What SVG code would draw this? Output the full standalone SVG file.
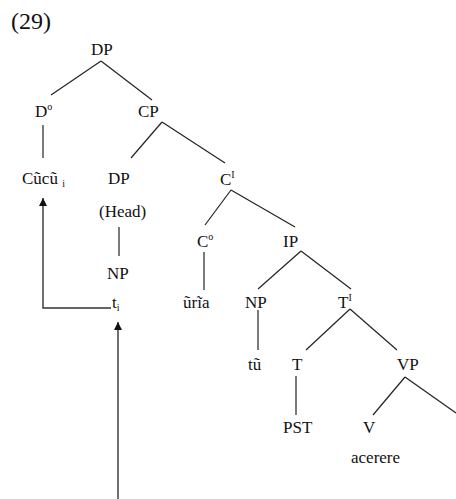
<svg xmlns="http://www.w3.org/2000/svg" width="456" height="499" viewBox="0 0 456 499">
<style>
  text { font-family: "Liberation Serif", "Times New Roman", serif; font-size: 17px; fill: #111; }
  .num { font-size: 24px; }
  .sup { font-size: 10px; }
  .sub { font-size: 10px; }
  .edge { stroke: #222; stroke-width: 1.2; fill: none; }
  .move { stroke: #333; stroke-width: 1.4; fill: none; }
</style>
<defs>
  <marker id="ah" viewBox="0 0 10 10" refX="10" refY="5" markerWidth="8" markerHeight="8" markerUnits="userSpaceOnUse" orient="auto">
    <path d="M0,0 L10,5 L0,10 z" fill="#111"/>
  </marker>
</defs>
<rect width="456" height="499" fill="#fff"/>
<text class="num" x="11" y="29">(29)</text>
<g id="connectors">
  <line class="edge" x1="101" y1="61" x2="51" y2="95"/>
  <line class="edge" x1="101" y1="61" x2="152" y2="100"/>
  <line class="edge" x1="43" y1="125" x2="43" y2="158"/>
  <line class="edge" x1="162" y1="122" x2="131" y2="158"/>
  <line class="edge" x1="162" y1="122" x2="225" y2="163"/>
  <line class="edge" x1="119" y1="227" x2="119" y2="256"/>
  <line class="edge" x1="231" y1="190" x2="205" y2="225"/>
  <line class="edge" x1="231" y1="190" x2="295" y2="227"/>
  <line class="edge" x1="204" y1="252" x2="204" y2="290"/>
  <line class="edge" x1="301" y1="251" x2="258" y2="289"/>
  <line class="edge" x1="301" y1="251" x2="351" y2="289"/>
  <line class="edge" x1="258" y1="310" x2="258" y2="350"/>
  <line class="edge" x1="350" y1="309" x2="306" y2="350"/>
  <line class="edge" x1="350" y1="309" x2="397" y2="350"/>
  <line class="edge" x1="296" y1="376" x2="296" y2="415"/>
  <line class="edge" x1="405" y1="377" x2="373" y2="415"/>
  <line class="edge" x1="405" y1="377" x2="456" y2="413"/>
  <polyline class="move" points="111,308 43,308 43,198" marker-end="url(#ah)"/>
  <line class="move" x1="118" y1="499" x2="118" y2="322" marker-end="url(#ah)"/>
</g>
<g id="n-dp"><text x="91" y="55">DP</text></g>
<g id="n-d0"><text x="35" y="117">D<tspan class="sup" dy="-7">o</tspan></text></g>
<g id="n-cp"><text x="138" y="117">CP</text></g>
<g id="n-cucu"><text x="22" y="184">Cũcũ <tspan class="sub" dy="3">i</tspan></text></g>
<g id="n-dp2"><text x="108" y="184">DP</text></g>
<g id="n-cbar"><text x="220" y="185">C<tspan class="sup" dy="-7">I</tspan></text></g>
<g id="n-head"><text x="99" y="217">(Head)</text></g>
<g id="n-c0"><text x="197" y="247">C<tspan class="sup" dy="-7">o</tspan></text></g>
<g id="n-ip"><text x="283" y="247">IP</text></g>
<g id="n-np1"><text x="107" y="279">NP</text></g>
<g id="n-ti"><text x="112" y="308">t<tspan class="sub" dy="3">i</tspan></text></g>
<g id="n-uria"><text x="183" y="308">ũrĩa</text></g>
<g id="n-np2"><text x="245" y="308">NP</text></g>
<g id="n-tbar"><text x="338" y="308">T<tspan class="sup" dy="-7">I</tspan></text></g>
<g id="n-tu"><text x="248" y="370">tũ</text></g>
<g id="n-t"><text x="292" y="370">T</text></g>
<g id="n-vp"><text x="397" y="370">VP</text></g>
<g id="n-pst"><text x="283" y="433">PST</text></g>
<g id="n-v"><text x="363" y="433">V</text></g>
<g id="n-acerere"><text x="351" y="463">acerere</text></g>
</svg>
